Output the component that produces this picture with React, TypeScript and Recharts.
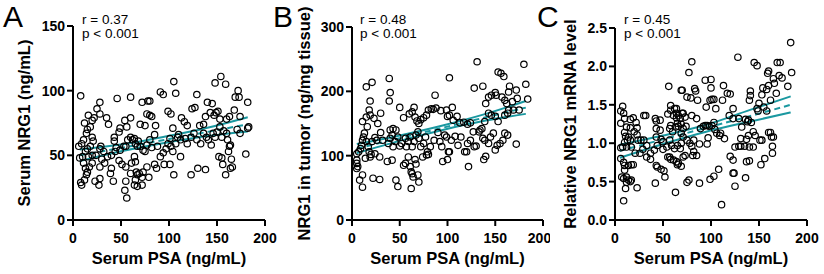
import { ComposedChart, Scatter, Line, XAxis, YAxis } from "recharts";

const FONT = "'Liberation Sans', Arial, sans-serif";
const TEAL = "#1a98a0";

const psaTicks = [0, 50, 100, 150, 200];
const serumTicks = [0, 50, 100, 150];
const tumorTicks = [0, 100, 200, 300];
const mrnaTicks = [0, 0.5, 1, 1.5, 2, 2.5];

// [serum PSA, value]
const serumPoints: [number, number][] = [
  [8,96],[46,94],[60,95],[28,91],[72,91],[78,92],[80,92],[91,99],[94,97],[105,107],[107,98],[129,97],[148,106],[154,111],[159,105],[172,100],[169,95],[173,95],[182,91],
  [25,86],[16,81],[28,82],[35,79],[37,74],[12,75],[20,77],[22,79],[54,77],[60,79],[56,72],[49,71],[48,68],[43,64],[43,61],[45,56],[70,74],[75,73],[77,82],[80,81],[82,80],[86,73],[99,84],[102,82],[104,71],[110,66],[113,79],[116,76],[119,73],[124,86],[127,87],[132,73],[136,74],[138,80],[140,91],[145,90],[143,83],[147,81],[149,83],[151,84],[153,78],[160,78],[163,80],[168,85],[174,80],[183,72],
  [6,57],[9,59],[11,62],[14,67],[15,70],[18,72],[13,53],[15,55],[18,57],[20,64],[21,61],[7,48],[10,49],[16,49],[20,50],[24,50],[28,55],[29,57],[32,53],[30,47],[36,49],[40,50],[44,53],[49,54],[53,57],[55,57],[57,62],[60,64],[62,62],[64,63],[65,59],[67,57],[68,61],[70,57],[73,54],[75,53],[77,58],[80,62],[82,56],[85,66],[88,57],[91,49],[94,52],[97,55],[99,59],[101,63],[102,57],[104,53],[107,59],[109,64],[112,62],[117,63],[119,59],[123,64],[126,67],[129,62],[133,59],[136,67],[139,64],[141,62],[144,58],[146,67],[148,64],[150,68],[153,72],[155,64],[157,69],[160,67],[161,62],[164,58],[171,70],[174,67],[182,71],
  [9,27],[8,29],[12,31],[14,35],[15,37],[13,40],[17,41],[20,44],[11,44],[23,30],[27,27],[28,32],[28,41],[33,44],[40,40],[42,30],[39,36],[48,46],[51,43],[55,41],[55,30],[54,23],[56,17],[60,36],[61,44],[64,49],[65,45],[66,37],[67,35],[65,31],[64,27],[67,26],[69,36],[72,33],[73,37],[72,27],[77,41],[79,33],[85,43],[87,40],[95,43],[101,43],[105,35],[112,49],[123,35],[130,40],[138,39],[152,49],[155,48],[156,43],[159,35],[162,53],[163,57],[165,47],[166,41],[164,40],[180,51],
];

const tumorPoints: [number, number][] = [
  [131,246],[180,242],[182,211],[153,230],[156,228],[159,223],[102,221],[39,220],[40,198],[39,185],[21,214],[15,207],[19,185],[128,205],[137,208],[164,199],[165,208],[172,202],[184,188],[173,189],
  [87,194],[83,173],[85,172],[88,174],[50,175],[65,175],[63,168],[66,160],[60,165],[54,159],[68,154],[72,156],[70,150],[75,159],[78,163],[80,171],[93,170],[99,171],[100,161],[105,175],[102,163],[106,155],[110,161],[113,151],[117,152],[121,149],[124,151],[127,137],[133,137],[136,142],[139,153],[140,181],[143,191],[146,194],[150,198],[151,194],[157,191],[160,186],[162,181],[164,171],[168,184],[169,171],[175,171],[143,166],[146,163],[150,161],[153,153],[160,163],[163,166],[18,171],[19,163],[15,160],[11,153],[16,145],[23,158],[27,150],[30,166],[40,140],[43,142],[46,140],
  [5,103],[7,106],[9,111],[10,116],[11,124],[12,129],[13,135],[15,122],[17,114],[18,106],[20,102],[24,103],[21,122],[24,128],[26,124],[30,136],[32,124],[38,119],[40,127],[42,132],[43,114],[45,122],[48,129],[50,115],[52,119],[56,127],[57,114],[59,122],[61,129],[63,114],[65,122],[67,132],[69,137],[70,127],[72,114],[75,119],[77,129],[79,106],[80,102],[82,114],[86,124],[90,136],[92,122],[94,114],[97,132],[99,129],[101,106],[104,124],[108,130],[111,116],[114,129],[118,106],[121,119],[124,124],[128,114],[130,115],[134,140],[137,127],[139,124],[143,119],[145,129],[148,135],[150,109],[152,116],[155,119],[158,124],[160,135],[163,132],[172,118],[5,93],[5,88],[6,83],[5,80],[8,62],[11,51],[11,70],[14,96],[19,98],[29,98],
  [22,65],[29,63],[37,91],[42,93],[46,62],[48,52],[54,85],[56,88],[59,98],[61,83],[62,75],[63,72],[62,49],[64,67],[66,94],[67,87],[69,70],[70,59],[74,98],[78,101],[95,91],[100,94],[102,106],[120,106],[122,83],[138,94],[140,99],
];

const mrnaPoints: [number, number][] = [
  [183,2.31],[184,1.92],[128,2.12],[80,2.06],[77,1.92],[145,2.05],[148,2.01],[169,2.05],[172,2.05],[160,1.94],[159,1.91],[171,1.88],[165,1.84],[174,1.85],[166,1.78],[180,1.74],[160,1.75],[154,1.72],[158,1.70],[153,1.63],[168,1.65],[94,1.82],[100,1.83],[100,1.72],[113,1.75],[117,1.65],[120,1.64],[56,1.74],[69,1.69],[70,1.69],[83,1.71],[84,1.68],[86,1.56],[79,1.59],[75,1.60],[99,1.56],[101,1.57],[103,1.57],[95,1.47],[105,1.45],[112,1.56],[141,1.68],[141,1.62],[140,1.56],[123,1.45],[150,1.52],[155,1.47],[158,1.42],[162,1.56],[148,1.45],[149,1.42],
  [8,1.48],[6,1.42],[9,1.39],[16,1.31],[10,1.32],[12,1.21],[16,1.20],[19,1.33],[22,1.27],[23,1.20],[23,1.11],[20,1.15],[24,1.04],[30,1.36],[32,1.36],[6,1.26],[10,1.14],[11,1.09],[14,1.08],[13,1.04],[16,1.04],[6,0.94],[8,0.95],[10,1.01],[12,0.95],[17,0.95],[27,1.04],[30,1.04],[29,0.92],[33,0.97],[37,0.87],[42,1.32],[43,1.29],[43,1.19],[47,1.17],[43,1.08],[48,1.05],[50,1.02],[54,0.95],[50,0.92],[44,0.97],[41,0.91],[47,1.30],[55,1.38],[58,1.49],[58,1.43],[62,1.45],[64,1.45],[64,1.39],[61,1.36],[64,1.33],[66,1.36],[68,1.32],[70,1.39],[71,1.39],[73,1.34],[65,1.26],[66,1.22],[69,1.25],[71,1.19],[74,1.22],[63,1.21],[58,1.23],[57,1.19],[60,1.15],[69,1.13],[71,1.08],[75,1.04],[78,1.00],[82,1.04],[57,1.04],[59,0.97],[62,0.93],[65,0.97],[68,0.93],[69,1.00],[80,1.36],[85,1.32],[89,1.19],[92,1.22],[94,1.23],[96,1.23],[98,1.22],[101,1.23],[103,1.27],[106,1.13],[109,1.10],[104,1.18],[88,0.99],[80,0.96],[85,0.84],[97,1.07],[96,0.99],[110,1.13],[114,1.06],[119,1.36],[123,1.32],[129,1.32],[132,1.21],[136,1.31],[138,1.28],[139,1.30],[142,1.27],[139,1.10],[137,1.05],[131,1.06],[131,0.96],[129,0.96],[125,0.95],[135,0.96],[140,0.95],[144,0.95],[146,1.10],[151,1.04],[153,1.04],[160,1.14],[162,1.14],[163,1.08],[165,1.08],[164,0.96],[164,0.87],
  [6,0.80],[9,0.75],[10,0.71],[10,0.65],[7,0.56],[9,0.54],[12,0.56],[14,0.52],[12,0.49],[16,0.50],[17,0.52],[11,0.41],[9,0.25],[14,0.71],[17,0.72],[19,0.72],[23,0.42],[21,0.87],[26,0.87],[33,0.82],[37,0.79],[42,0.48],[43,0.71],[44,0.69],[48,0.66],[51,0.64],[52,0.56],[55,0.82],[57,0.82],[58,0.79],[61,0.78],[64,0.76],[66,0.74],[65,0.72],[69,0.70],[63,0.36],[71,0.82],[73,0.84],[75,0.49],[77,0.52],[81,0.84],[82,0.89],[88,0.48],[99,0.53],[103,0.57],[108,0.66],[111,0.20],[120,0.83],[123,0.78],[123,0.61],[124,0.61],[125,0.44],[136,0.55],[137,0.76],[140,0.77],[152,0.72],[156,0.80],[144,1.15],
];

// regression line and 95% band, read at a few PSA values
const serumFitX = [7, 50, 95, 140, 182];
const serumFitMid = [50, 55.7, 61.9, 68.1, 74];
const serumFitHi = [54.5, 58.3, 64.3, 71.3, 79.5];
const serumFitLo = [45.5, 53.1, 59.5, 64.9, 68.5];

const tumorFitX = [5, 50, 95, 140, 182];
const tumorFitMid = [111, 127.2, 143.4, 159.6, 174.7];
const tumorFitHi = [118, 131.5, 147, 165, 185];
const tumorFitLo = [104, 123, 140, 154.5, 165];

const mrnaFitX = [5, 50, 95, 140, 183];
const mrnaFitMid = [0.9, 1.05, 1.2, 1.35, 1.5];
const mrnaFitHi = [0.98, 1.1, 1.24, 1.43, 1.61];
const mrnaFitLo = [0.81, 0.99, 1.15, 1.28, 1.4];

const Ring = (props: any) => (
  <circle cx={props.cx} cy={props.cy} r={3.2} fill="none" stroke="#000" strokeWidth={1.2} />
);

const tickStyle = { fill: "#000", fontSize: 14, fontWeight: 700, fontFamily: FONT };
const axisStroke = { stroke: "#000", strokeWidth: 2 };

interface PanelProps {
  left: number;
  width: number;
  axisWidth: number;
  top: number;
  right: number;
  points: [number, number][];
  fitX: number[];
  fitMid: number[];
  fitHi: number[];
  fitLo: number[];
  yMax: number;
  yTicks: number[];
  yLabel: string;
  yLabelOffset: number;
  letter: string;
  letterLeft: number;
  statLeft: number;
  r: string;
  decimals?: number;
}

function Panel(p: PanelProps) {
  const pts = p.points.map(([x, y]) => ({ x, y }));
  const fit = p.fitX.map((x, i) => ({ x, mid: p.fitMid[i], hi: p.fitHi[i], lo: p.fitLo[i] }));
  return (
    <>
      <div style={{ position: "absolute", left: p.left, top: 0, width: p.width, height: 274 }}>
        <ComposedChart width={p.width} height={274} margin={{ top: p.top, right: p.right, bottom: 0, left: 0 }}>
          <XAxis
            type="number"
            dataKey="x"
            domain={[0, 200]}
            ticks={psaTicks}
            height={54}
            axisLine={axisStroke}
            tickLine={axisStroke}
            tickSize={6}
            tickMargin={7}
            tick={tickStyle}
            label={{
              value: "Serum PSA (ng/mL)",
              position: "insideBottom",
              offset: 10,
              style: { fill: "#000", fontSize: 16.5, fontWeight: 700, fontFamily: FONT },
            }}
          />
          <YAxis
            type="number"
            dataKey="y"
            domain={[0, p.yMax]}
            ticks={p.yTicks}
            width={p.axisWidth}
            axisLine={axisStroke}
            tickLine={axisStroke}
            tickSize={6}
            tickMargin={2}
            tick={tickStyle}
            tickFormatter={(v: number) => (p.decimals ? v.toFixed(p.decimals) : String(v))}
            label={{
              value: p.yLabel,
              angle: -90,
              position: "insideLeft",
              offset: p.yLabelOffset,
              style: { fill: "#000", fontSize: 16.5, fontWeight: 700, fontFamily: FONT, textAnchor: "middle" },
            }}
          />
          <Scatter data={pts} dataKey="y" shape={Ring} isAnimationActive={false} />
          <Line data={fit} dataKey="hi" type="monotone" stroke={TEAL} strokeWidth={2} dot={false} isAnimationActive={false} />
          <Line data={fit} dataKey="lo" type="monotone" stroke={TEAL} strokeWidth={2} dot={false} isAnimationActive={false} />
          <Line data={fit} dataKey="mid" type="linear" stroke={TEAL} strokeWidth={2} strokeDasharray="6 4" dot={false} isAnimationActive={false} />
        </ComposedChart>
      </div>
      <div style={{ position: "absolute", left: p.letterLeft, top: 1.5, fontFamily: FONT, fontSize: 30, lineHeight: "30px", color: "#000" }}>
        {p.letter}
      </div>
      <div style={{ position: "absolute", left: p.statLeft, top: 13, fontFamily: FONT, fontSize: 13.5, lineHeight: "13.5px", color: "#000", whiteSpace: "nowrap" }}>
        <div>{p.r}</div>
        <div>p &lt; 0.001</div>
      </div>
    </>
  );
}

export default function App() {
  return (
    <div style={{ position: "absolute", left: 0, top: 0, width: 824, height: 274, background: "#fff", overflow: "hidden" }}>
      <Panel
        left={0} width={280} axisWidth={73} top={26} right={15}
        points={serumPoints} fitX={serumFitX} fitMid={serumFitMid} fitHi={serumFitHi} fitLo={serumFitLo}
        yMax={150} yTicks={serumTicks} yLabel="Serum NRG1 (ng/mL)" yLabelOffset={24}
        letter="A" letterLeft={3} statLeft={82} r="r = 0.37"
      />
      <Panel
        left={280} width={270} axisWidth={72} top={27} right={7}
        points={tumorPoints} fitX={tumorFitX} fitMid={tumorFitMid} fitHi={tumorFitHi} fitLo={tumorFitLo}
        yMax={300} yTicks={tumorTicks} yLabel="NRG1 in tumor (ng/mg tissue)" yLabelOffset={24}
        letter="B" letterLeft={273} statLeft={360} r="r = 0.48"
      />
      <Panel
        left={550} width={274} axisWidth={65} top={28} right={17}
        points={mrnaPoints} fitX={mrnaFitX} fitMid={mrnaFitMid} fitHi={mrnaFitHi} fitLo={mrnaFitLo}
        yMax={2.5} yTicks={mrnaTicks} yLabel="Relative NRG1 mRNA level" yLabelOffset={20}
        letter="C" letterLeft={537} statLeft={624} r="r = 0.45" decimals={1}
      />
    </div>
  );
}
